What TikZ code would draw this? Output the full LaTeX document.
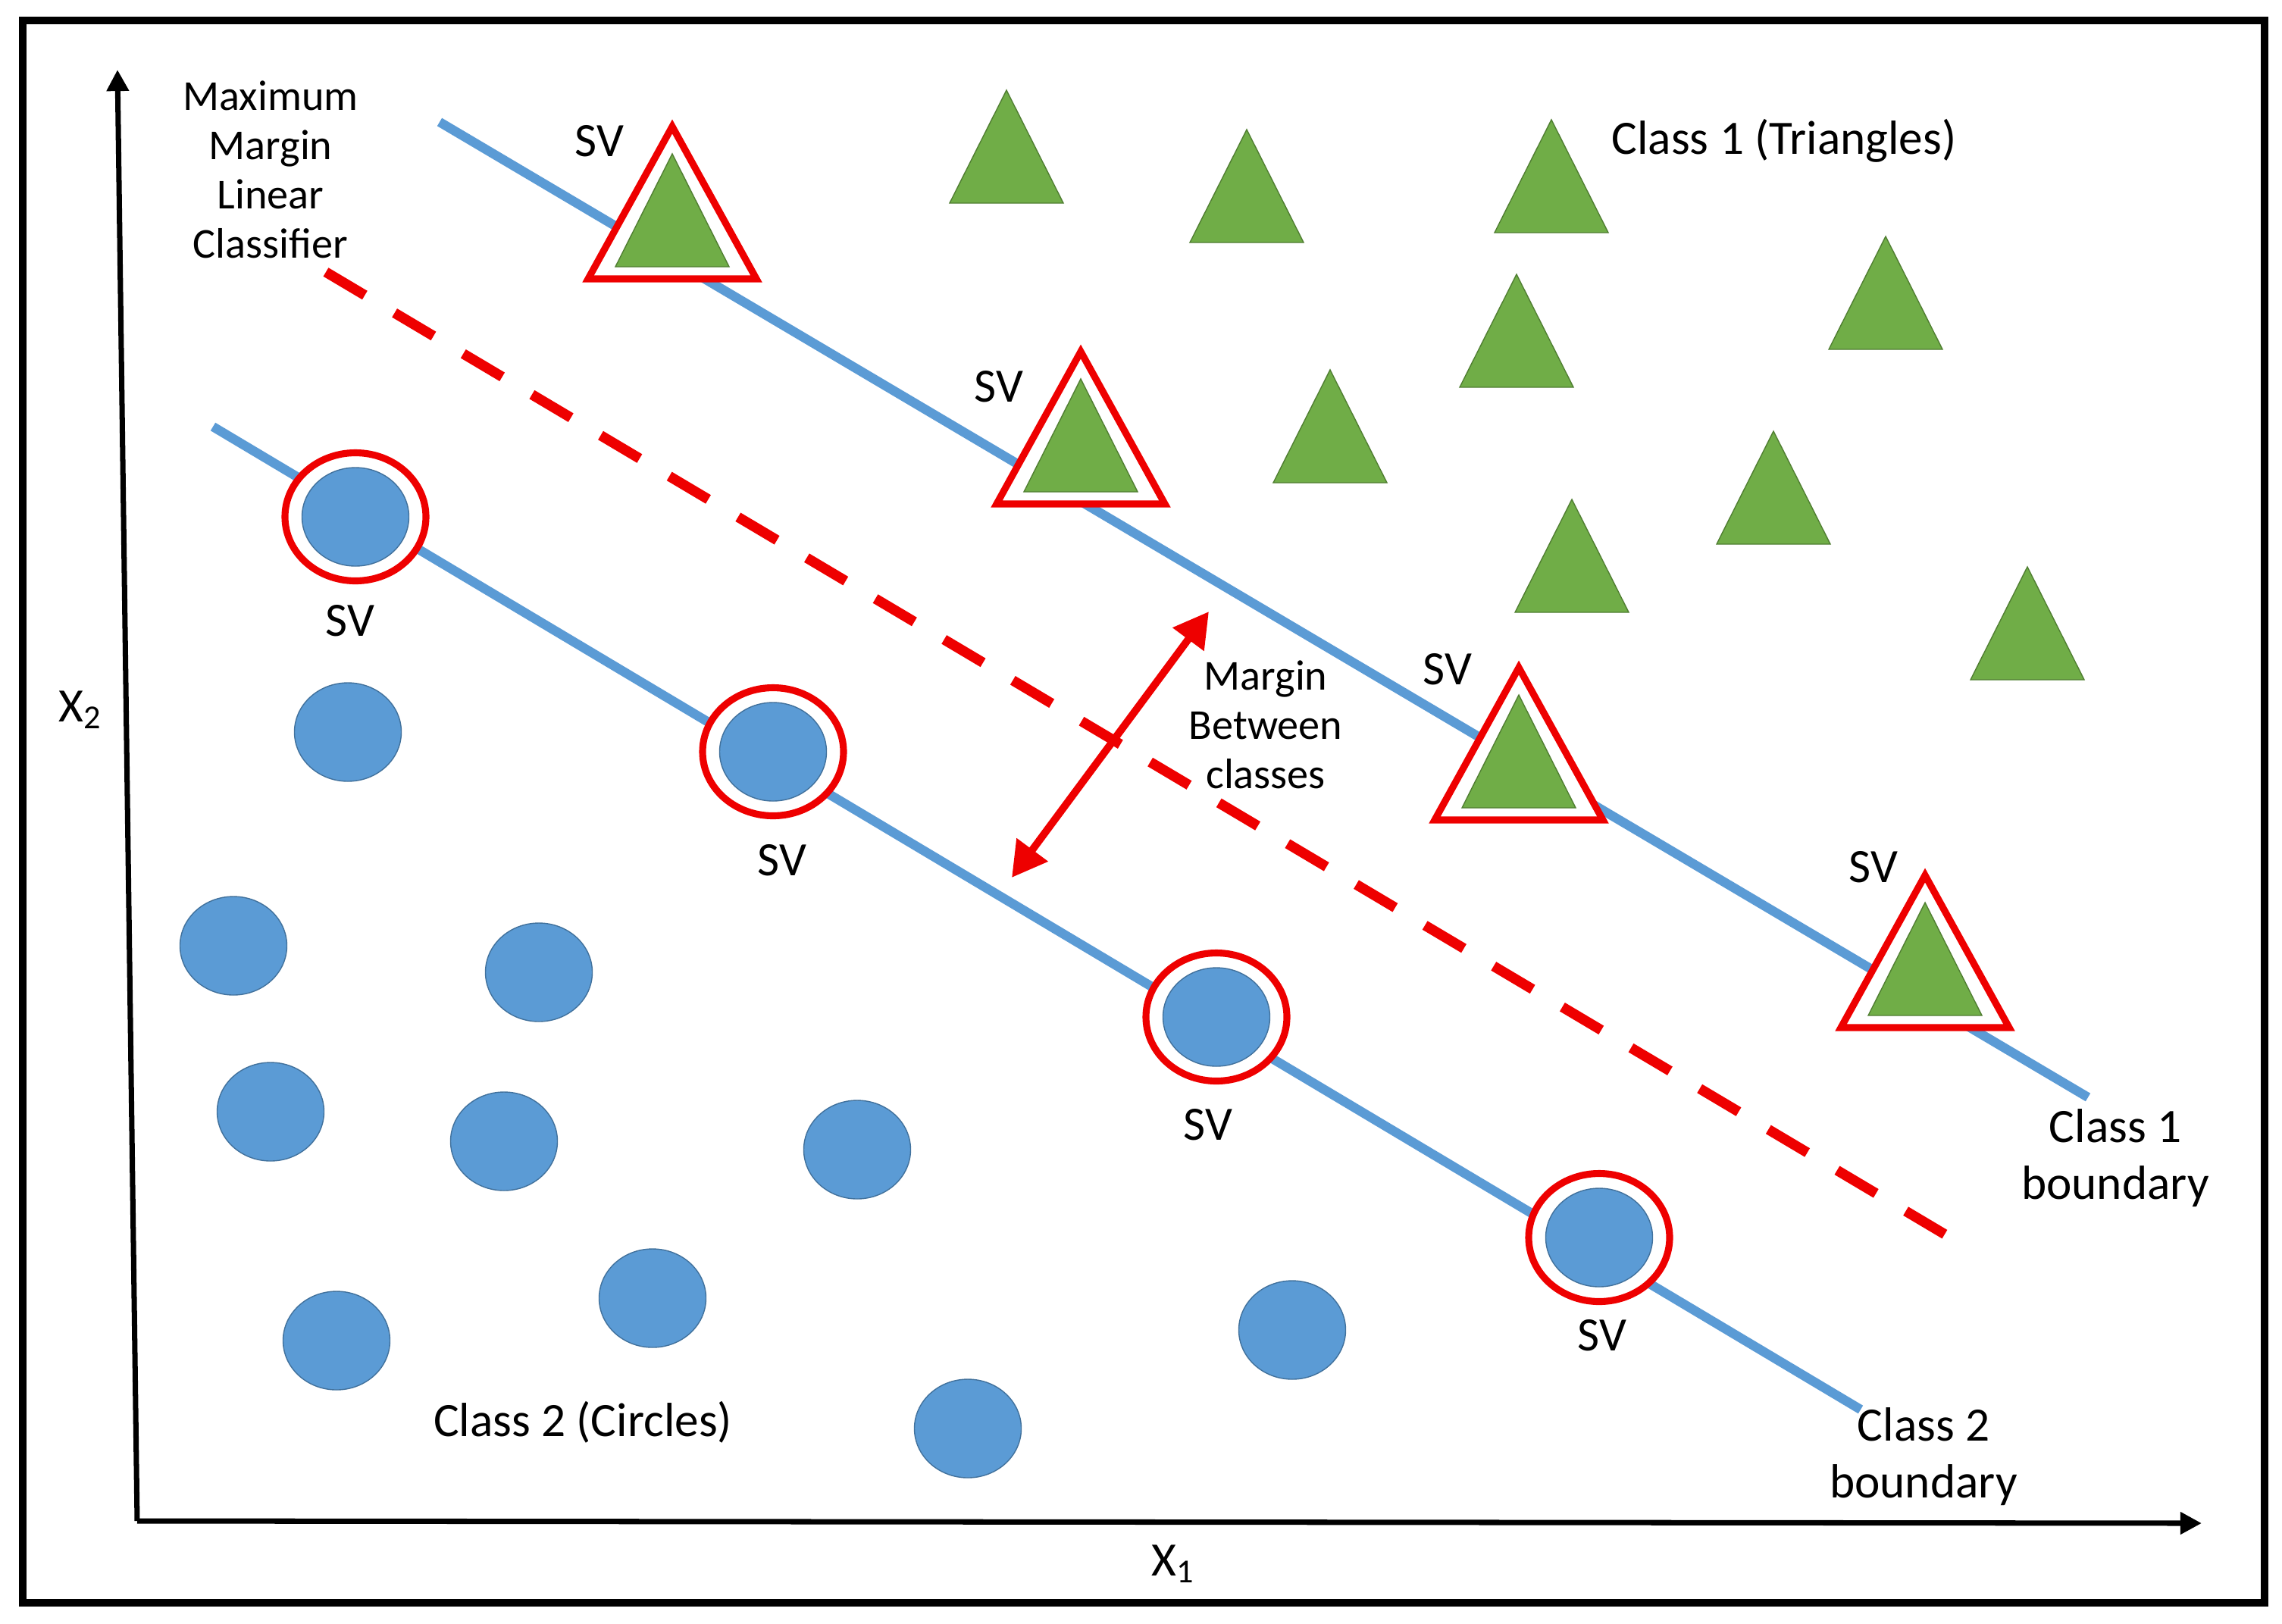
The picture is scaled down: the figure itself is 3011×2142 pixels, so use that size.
\documentclass[tikz,border=0pt]{standalone}
\usepackage{fontspec}
\setmainfont{Carlito}
\usepackage{xcolor}
\definecolor{dotc}{HTML}{5B9BD5}
\definecolor{dotedge}{HTML}{41719C}
\definecolor{trigc}{HTML}{70AD47}
\definecolor{trigedge}{HTML}{507E32}
\definecolor{svc}{HTML}{EE0000}
\usetikzlibrary{arrows.meta,shapes.geometric}
\tikzset{
  >={Triangle[length=8pt,width=8pt]},
  axis/.style={->,line width=2pt},
  frame/.style={draw=black,line width=2.8pt},
  bnd/.style={draw=dotc,line width=3.5pt},
  hyp/.style={draw=svc,line width=3.8pt,dash pattern=on 17pt off 13pt},
  marg/.style={{Triangle[length=13pt,width=14pt]}-{Triangle[length=13pt,width=14pt]},draw=svc,line width=2.8pt},
  dot/.style={ellipse,fill=dotc,draw=dotedge,line width=0.4pt,minimum width=14.1mm,minimum height=13mm,inner sep=0pt},
  svring/.style={ellipse,draw=svc,fill=white,line width=2.6pt,minimum width=18.6mm,minimum height=16.9mm,inner sep=0pt},
  trig/.style={fill=trigc,draw=trigedge,line width=0.4pt},
  svtrig/.style={draw=svc,fill=white,line width=2.6pt,line join=miter},
  lbl/.style={font=\fontsize{18}{21.5}\selectfont,inner sep=0pt},
  note/.style={font=\fontsize{16}{18.5}\selectfont,align=center,inner sep=0pt},
}
\newcommand{\tri}[2]{\coordinate (#1) at (#2);
  \filldraw[trig] ([shift={(-75,0)}]#1) -- ++(75,-149) -- ++(75,149) -- cycle;}
\newcommand{\svtri}[2]{\coordinate (#1) at (#2);
  \filldraw[svtrig] ([shift={(-111,16)}]#1) -- ++(111,-201) -- ++(111,201) -- cycle;
  \filldraw[trig] ([shift={(-75,0)}]#1) -- ++(75,-149) -- ++(75,149) -- cycle;}
\newcommand{\svdot}[2]{\node[svring] (#1) at (#2) {};\node[dot] (#1-in) at (#1) {};}

\begin{document}
\begin{tikzpicture}[x=0.1mm,y=-0.1mm]
  \useasboundingbox (0,0) rectangle (3011,2142);
  \draw[frame] (30,27) rectangle (2988,2115);
  \coordinate (O) at (181,2007); \coordinate (xend) at (2905,2010); \coordinate (yend) at (155,92);
  \draw[axis] (O) -- (xend); \draw[axis] (O) -- (yend);
  \coordinate (b1s) at (580,161); \coordinate (b1e) at (2755,1448);
  \coordinate (b2s) at (281,563); \coordinate (b2e) at (2455,1860);
  \coordinate (hs) at (430,359); \coordinate (he) at (2585,1640);
  \draw[bnd] (b1s) -- (b1e); \draw[bnd] (b2s) -- (b2e);
  \draw[hyp] (hs) -- (he);
  \coordinate (m1) at (1335,1158); \coordinate (m2) at (1595,807);
  \draw[marg] (m1) -- (m2);
  \foreach \p [count=\k] in {{1328,268},{1645,320},{2047,307},{2488,461},{2001,511},{1755,637},{2340,718},{2074,808},{2675,897}}
    \tri{t\k}{\p};
  \foreach \p [count=\k] in {{887,352},{1426,649},{2004,1066},{2540,1340}}
    \svtri{st\k}{\p};
  \foreach \p [count=\k] in {{459,966},{308,1248},{711,1283},{357,1467},{665,1506},{1131,1517},{861,1713},{444,1769},{1277,1885},{1705,1755}}
    \node[dot] (c\k) at (\p) {};
  \foreach \p [count=\k] in {{469,682},{1020,992},{1605,1342},{2110,1633}}
    \svdot{sc\k}{\p};
  \foreach \p [count=\k] in {{791,186},{1318,510},{1910,883},{2472,1144},{462,819},{1032,1135},{1594,1484},{2114,1762}}
    \node[lbl] (sv\k) at (\p) {SV};
  \node[note] (mmlc) at (357,224) {Maximum\\Margin\\Linear\\Classifier};
  \node[note] (mbc) at (1670,956) {Margin\\Between\\classes};
  \node[lbl] (cl1) at (2354,186) {Class 1 (Triangles)};
  \node[lbl] (cl2) at (769,1877) {Class 2 (Circles)};
  \node[lbl,align=center] (cb1) at (2791,1528) {Class 1\\boundary};
  \node[lbl,align=center] (cb2) at (2538,1922) {Class 2\\boundary};
  \node[lbl] (x1) at (1548,2064) {X\textsubscript{1}};
  \node[lbl] (x2) at (106,937) {X\textsubscript{2}};
\end{tikzpicture}
\end{document}
